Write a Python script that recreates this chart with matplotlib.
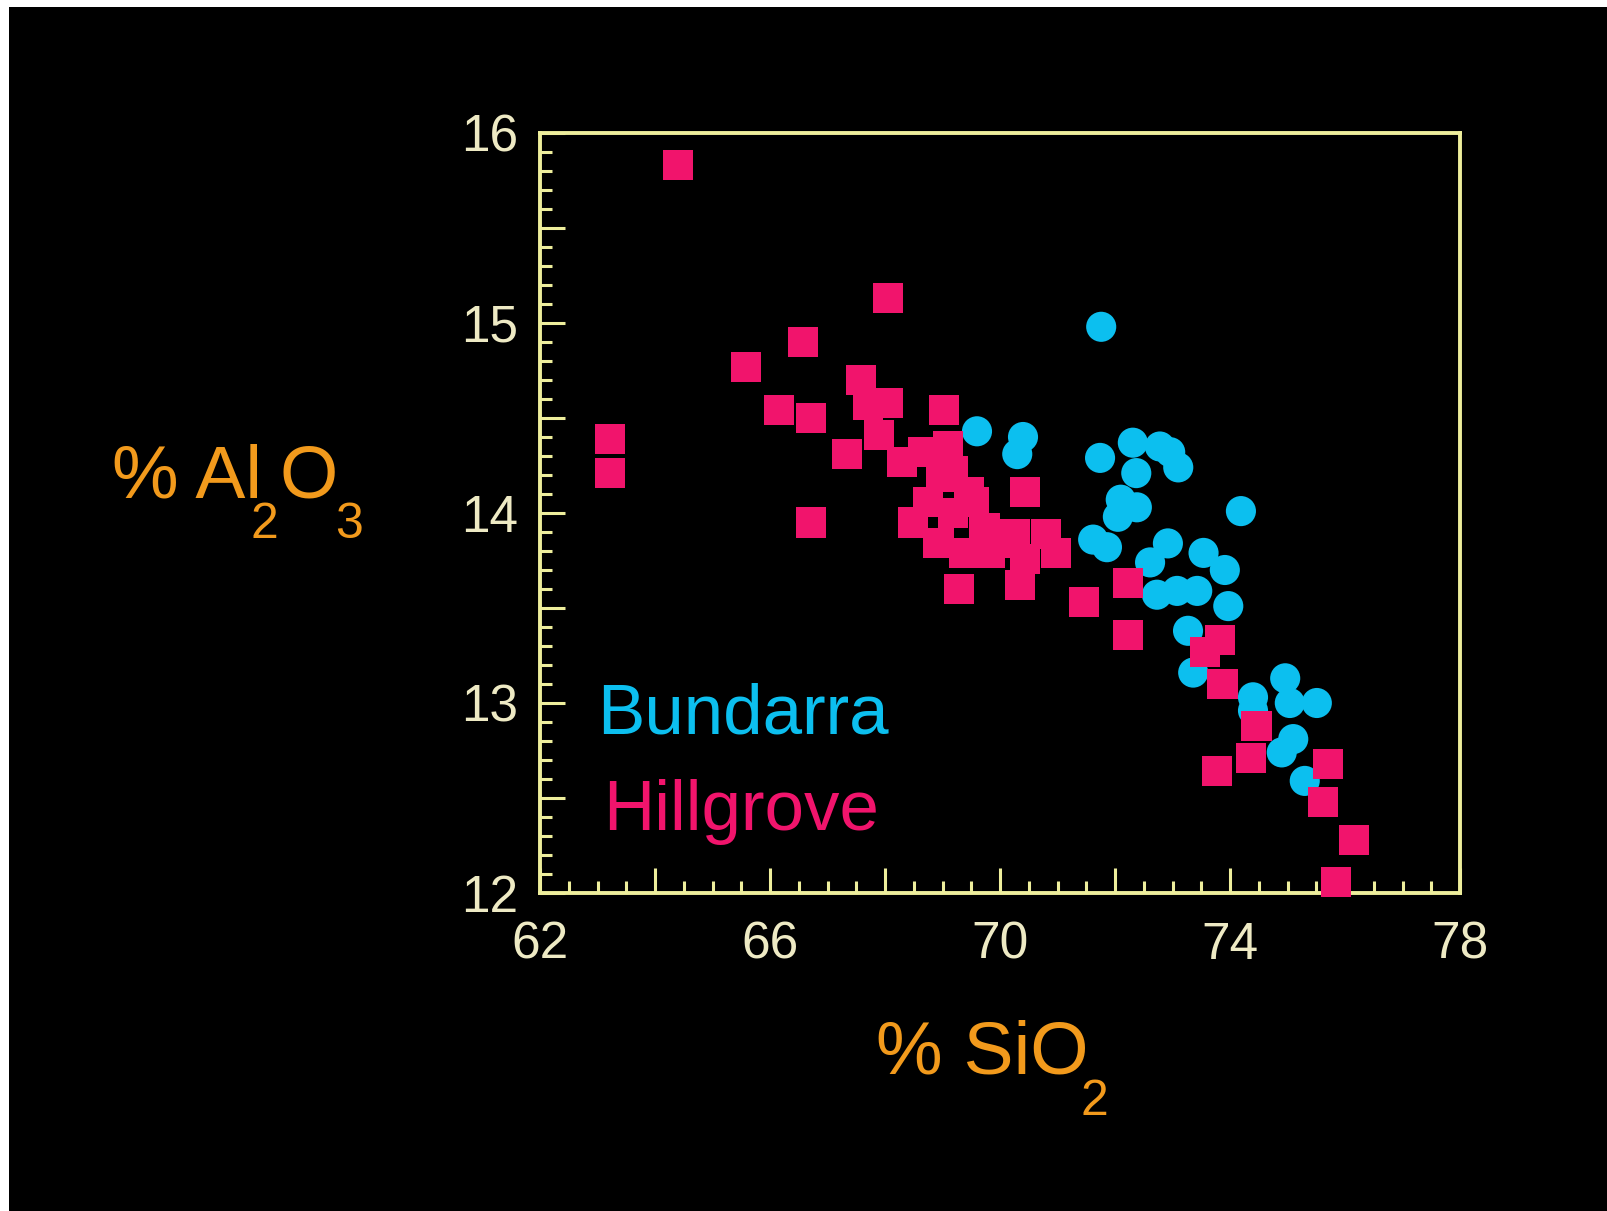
import matplotlib
matplotlib.use("Agg")
import matplotlib.pyplot as plt
from matplotlib.patches import Rectangle
from matplotlib.ticker import MultipleLocator, FuncFormatter

# ---------------- data ----------------
bundarra_sio2 = [71.76, 69.60, 70.40, 70.30, 71.74, 72.31, 72.78, 72.96, 73.10, 72.37,
                 72.10, 72.38, 72.05, 74.19, 71.62, 71.86, 72.92, 72.61, 73.54, 73.91,
                 72.73, 73.08, 73.43, 73.97, 73.27, 73.36, 74.40, 74.40, 74.96, 75.04,
                 75.51, 75.10, 74.90, 75.30]
bundarra_al2o3 = [14.98, 14.43, 14.40, 14.31, 14.29, 14.37, 14.35, 14.32, 14.24, 14.21,
                  14.07, 14.03, 13.98, 14.01, 13.86, 13.82, 13.84, 13.74, 13.79, 13.70,
                  13.57, 13.59, 13.59, 13.51, 13.38, 13.16, 13.03, 12.96, 13.13, 13.00,
                  13.00, 12.81, 12.74, 12.59]

hillgrove_sio2 = [64.40, 63.22, 63.22, 68.05, 66.57, 65.59, 66.16, 66.72, 67.34, 67.59,
                  67.70, 68.05, 67.89, 68.30, 68.66, 69.02, 69.10, 69.19, 69.46, 68.98,
                  68.75, 68.48, 68.93, 69.19, 69.55, 69.73, 69.37, 69.82, 70.17, 70.26,
                  70.44, 70.80, 70.98, 70.35, 70.44, 69.28, 66.72, 71.46, 72.22, 72.22,
                  73.56, 73.83, 73.87, 73.78, 74.37, 74.46, 75.71, 75.62, 76.16, 75.85]
hillgrove_al2o3 = [15.83, 14.39, 14.21, 15.13, 14.90, 14.77, 14.54, 14.50, 14.31, 14.70,
                   14.57, 14.58, 14.41, 14.27, 14.32, 14.54, 14.35, 14.22, 14.11, 14.19,
                   14.06, 13.95, 13.84, 14.00, 14.06, 13.92, 13.79, 13.79, 13.84, 13.89,
                   13.76, 13.89, 13.79, 13.62, 14.11, 13.60, 13.95, 13.53, 13.63, 13.36,
                   13.27, 13.33, 13.10, 12.64, 12.71, 12.88, 12.68, 12.48, 12.28, 12.06]

series_names = ["Bundarra", "Hillgrove"]
y_label_parts = ["% Al", "2", "O", "3"]
x_label_parts = ["% SiO", "2"]
x_range = (62, 78)
y_range = (12, 16)

# ---------------- style ----------------
CYAN = "#0CBFEF"
PINK = "#F1146C"
ORANGE = "#F29A1C"
AXIS = "#EEEE9C"
TICKTXT = "#EEEAC4"
FONT = "Liberation Sans"

W, H = 1608, 1211
fig = plt.figure(figsize=(W / 100, H / 100), dpi=100)
fig.patch.set_facecolor("white")
fig.patches.append(Rectangle((9 / W, 0), 1, (H - 7) / H, transform=fig.transFigure,
                             facecolor="black", edgecolor="none", zorder=-10))

ax = fig.add_axes([540 / W, (H - 893) / H, 920 / W, 760 / H])
ax.set_facecolor("black")
ax.set_xlim(*x_range)
ax.set_ylim(*y_range)

for s in ax.spines.values():
    s.set_color(AXIS)
    s.set_linewidth(2.8)

ax.scatter(bundarra_sio2, bundarra_al2o3, s=470, marker="o", color=CYAN,
           edgecolors="none", zorder=3, clip_on=False)
ax.scatter(hillgrove_sio2, hillgrove_al2o3, s=470, marker="s", color=PINK,
           edgecolors="none", zorder=4, clip_on=False)

ax.xaxis.set_major_locator(MultipleLocator(2))
ax.xaxis.set_minor_locator(MultipleLocator(0.5))
ax.yaxis.set_major_locator(MultipleLocator(0.5))
ax.yaxis.set_minor_locator(MultipleLocator(0.1))
ax.xaxis.set_major_formatter(FuncFormatter(lambda v, p: f"{int(round(v))}" if round(v) % 4 == 2 else ""))
ax.yaxis.set_major_formatter(FuncFormatter(lambda v, p: f"{int(round(v))}" if abs(v - round(v)) < 1e-6 else ""))

ax.tick_params(which="both", direction="in", color=AXIS, width=2.2,
               top=False, right=False)
ax.tick_params(which="major", length=18)
ax.tick_params(which="minor", length=8.5)
ax.tick_params(axis="x", which="major", pad=20)
ax.tick_params(axis="y", which="major", pad=16)
for lab in ax.get_xticklabels() + ax.get_yticklabels():
    lab.set_fontfamily(FONT)
    lab.set_fontsize(37)
    lab.set_color(TICKTXT)

renderer = fig.canvas.get_renderer()


def ftext(x, y, s, size, color):
    """x, y in pixels from the top-left; returns right edge of the text box in px."""
    t = fig.text(x / W, 1 - y / H, s, fontsize=size, color=color, family=FONT,
                 ha="left", va="baseline")
    return t.get_window_extent(renderer).x1


# legend-like labels inside the plot
ftext(597, 733, series_names[0], 51, CYAN)
ftext(603, 830, series_names[1], 51, PINK)

# axis labels with strongly lowered subscripts, laid out piece by piece
MAIN, SUB = 54, 36
xr = ftext(112, 498, y_label_parts[0], MAIN, ORANGE)
xr = ftext(xr - 11, 538, y_label_parts[1], SUB, ORANGE)
xr = ftext(xr + 1, 498, y_label_parts[2], MAIN, ORANGE)
ftext(xr - 3, 538, y_label_parts[3], SUB, ORANGE)

xr = ftext(876, 1073, x_label_parts[0], MAIN, ORANGE)
ftext(xr - 8, 1115, x_label_parts[1], SUB, ORANGE)

fig.savefig("out.png", dpi=100, facecolor=fig.get_facecolor())
